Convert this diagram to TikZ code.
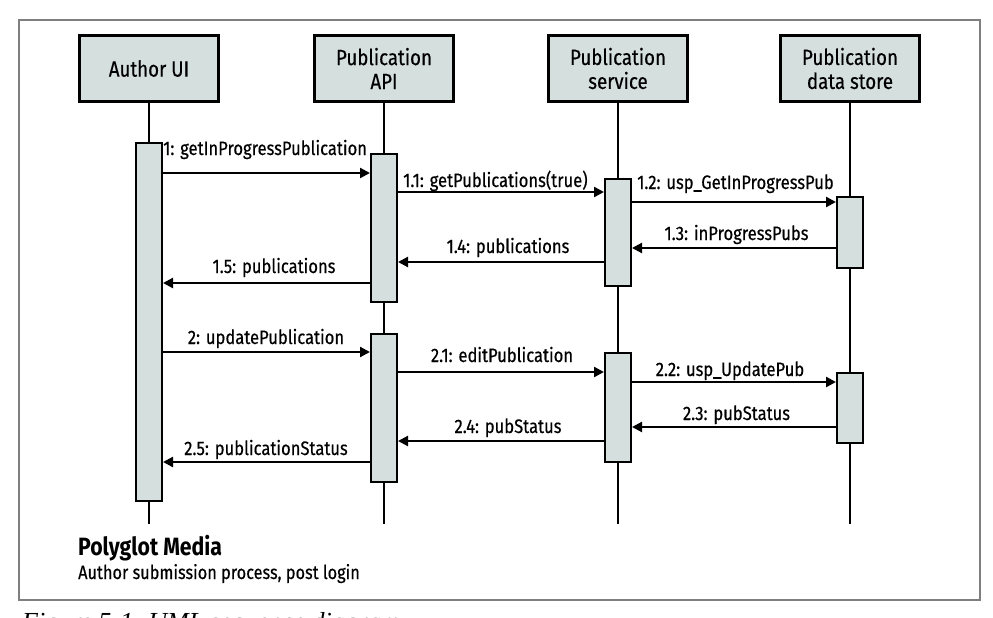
\documentclass[tikz,border=0pt]{standalone}
\usepackage{fontspec}
\setmainfont{Fira Sans}[FakeStretch=0.85]
\newfontfamily\lblfont{Fira Sans}[FakeStretch=0.85,FakeBold=0.4]
\newfontfamily\capfont{Liberation Serif}
\usetikzlibrary{arrows.meta}
\definecolor{boxfill}{HTML}{D5DFDE}
\definecolor{framegray}{HTML}{7F7F7F}
\begin{document}
\begin{tikzpicture}[x=1pt,y=-1pt,
  head/.style={draw=black, line width=2.6pt, fill=boxfill, minimum width=139.4pt, minimum height=66.4pt, inner sep=0pt, align=center, font=\lblfont\fontsize{22}{24}\selectfont},
  bar/.style={draw=black, line width=2.4pt, fill=boxfill, minimum width=25.6pt, inner sep=0pt},
  life/.style={line width=2pt},
  msg/.style={line width=2.2pt, -{Triangle[length=10pt,width=10pt]}},
  lbl/.style={anchor=base, inner sep=0pt, font=\lblfont\fontsize{19.5}{22}\selectfont},
]
\useasboundingbox (0,0) rectangle (993,618);
\clip (0,0) rectangle (993,618);
\fill[white] (0,0) rectangle (993,618);
\draw[framegray, line width=1.5pt] (19,20) rectangle (980,600);

% heads
\node[head] (hA) at (149,68.5) {Author UI};
\node[head] (hP) at (384,68.5) {Publication\\API};
\node[head] (hS) at (618,68.5) {Publication\\service};
\node[head] (hD) at (850,68.5) {Publication\\data store};

% lifeline ends
\coordinate (eA) at (149,524);
\coordinate (eP) at (384,524);
\coordinate (eS) at (618,524);
\coordinate (eD) at (850,524);
\draw[life] (hA.south) -- (eA);
\draw[life] (hP.south) -- (eP);
\draw[life] (hS.south) -- (eS);
\draw[life] (hD.south) -- (eD);

% activation bars
\node[bar, minimum height=357.6pt] (bA) at (149,322) {};
\node[bar, minimum height=147.6pt] (bP1) at (384,228) {};
\node[bar, minimum height=147.6pt] (bP2) at (384,408) {};
\node[bar, minimum height=106.6pt] (bS1) at (618,232.5) {};
\node[bar, minimum height=108.6pt] (bS2) at (618,407.5) {};
\node[bar, minimum height=70.6pt] (bD1) at (850,232.5) {};
\node[bar, minimum height=69.6pt] (bD2) at (850,408) {};

% messages
\draw[msg] (bA.east |- 0,173) -- (bP1.west |- 0,173);
\draw[msg] (bP1.east |- 0,192) -- (bS1.west |- 0,192);
\draw[msg] (bS1.east |- 0,202) -- (bD1.west |- 0,202);
\draw[msg] (bD1.west |- 0,248) -- (bS1.east |- 0,248);
\draw[msg] (bS1.west |- 0,262) -- (bP1.east |- 0,262);
\draw[msg] (bP1.west |- 0,283) -- (bA.east |- 0,283);
\draw[msg] (bA.east |- 0,352) -- (bP2.west |- 0,352);
\draw[msg] (bP2.east |- 0,372) -- (bS2.west |- 0,372);
\draw[msg] (bS2.east |- 0,382) -- (bD2.west |- 0,382);
\draw[msg] (bD2.west |- 0,427) -- (bS2.east |- 0,427);
\draw[msg] (bS2.west |- 0,441) -- (bP2.east |- 0,441);
\draw[msg] (bP2.west |- 0,462) -- (bA.east |- 0,462);

% labels
\node[lbl, anchor=base west] (l1) at (163,155) {1: getInProgressPublication};
\node[lbl, anchor=base west] (l11) at (403,187) {1.1: getPublications(true)};
\node[lbl, anchor=base west] (l12) at (637,189) {1.2: usp\_GetInProgressPub};
\node[lbl] (l13) at (736.5,240) {1.3: inProgressPubs};
\node[lbl] (l14) at (508,253) {1.4: publications};
\node[lbl] (l15) at (274,273) {1.5: publications};
\node[lbl] (l2) at (266,344) {2: updatePublication};
\node[lbl] (l21) at (502,362) {2.1: editPublication};
\node[lbl] (l22) at (730,376) {2.2: usp\_UpdatePub};
\node[lbl] (l23) at (736.5,420) {2.3: pubStatus};
\node[lbl] (l24) at (508,433) {2.4: pubStatus};
\node[lbl] (l25) at (266,455) {2.5: publicationStatus};

% titles
\node[anchor=base west, inner sep=0pt, font=\bfseries\fontsize{25}{30}\selectfont] (t1) at (78,555) {Polyglot Media};
\node[anchor=base west, inner sep=0pt, font=\lblfont\fontsize{19.2}{22}\selectfont] (t2) at (78,579) {Author submission process, post login};
\node[anchor=base west, inner sep=0pt, font=\capfont\itshape\fontsize{26}{30}\selectfont] (cap) at (22,630) {Figure 5-1. UML sequence diagram};
\end{tikzpicture}
\end{document}
